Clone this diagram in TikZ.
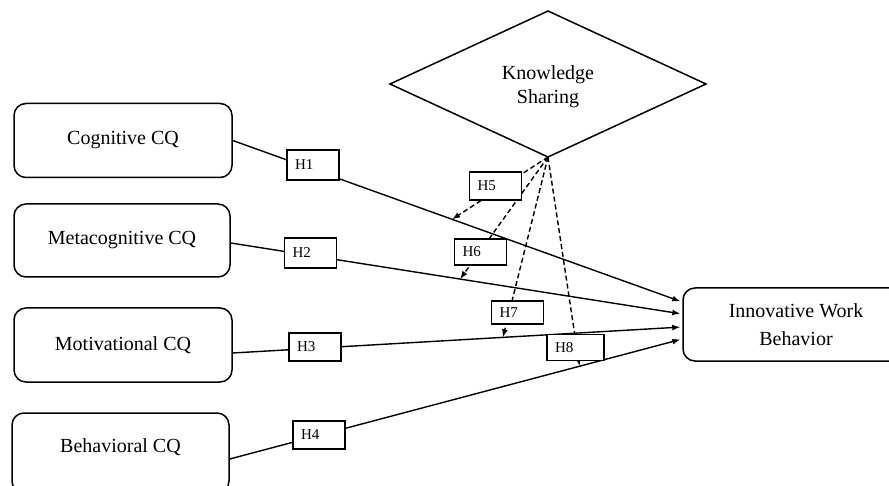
\documentclass[tikz,border=0pt]{standalone}
\usepackage{fontspec}
\setmainfont{Liberation Serif}
\usetikzlibrary{shapes.geometric,arrows.meta}

\begin{document}
\begin{tikzpicture}[x=1pt,y=-1pt,
  cq/.style={draw,line width=1.5pt,rounded corners=12pt,minimum width=218pt,
    minimum height=74pt,align=center,font=\fontsize{20}{24}\selectfont},
  hyp/.style={draw,fill=white,line width=1.5pt,text width=36pt,inner xsep=8pt,
    inner ysep=0pt,minimum height=28pt,align=left,font=\fontsize{15}{18}\selectfont},
  link/.style={line width=1.4pt,-{Latex[length=8pt,width=6pt]},shorten >=2pt},
  moder/.style={line width=1.4pt,dash pattern=on 5pt off 3pt,-{Latex[length=8pt,width=6pt]}}]
  \useasboundingbox (0,0) rectangle (889,486);

  \node[cq] (cog) at (123,140.5) {Cognitive CQ};
  \node[cq,minimum width=216pt,minimum height=73pt] (meta) at (122,240.5) {Metacognitive CQ};
  \node[cq] (mot) at (123,345) {Motivational CQ};
  \node[cq,minimum width=217pt,minimum height=80pt,
    label={[font=\fontsize{20}{24}\selectfont,yshift=6pt]center:Behavioral CQ}]
    (beh) at (120.5,453) {};
  \node[cq,minimum width=226pt,minimum height=73pt,font=\fontsize{20}{28}\selectfont]
    (iwb) at (796,324.5) {Innovative Work\\Behavior};
  \node[draw,diamond,line width=1.5pt,aspect=2.16,minimum width=316pt,minimum height=146pt,
    inner sep=0pt,outer sep=0pt,
    label={[align=center,font=\fontsize{20}{24}\selectfont,yshift=-3pt]center:Knowledge\\Sharing}]
    (ks) at (548,84) {};

  \draw[link] (cog.east) -- coordinate[pos=0.488] (t1) ([yshift=22.5pt]iwb.west);
  \draw[link] ([yshift=-2.5pt]meta.east) -- coordinate[pos=0.508] (t2) ([yshift=10.5pt]iwb.west);
  \draw[link] ([yshift=-8pt]mot.east) -- coordinate[pos=0.601] (t3) ([yshift=-2.5pt]iwb.west);
  \draw[link] ([yshift=-6pt]beh.east) -- coordinate[pos=0.773] (t4) ([yshift=-14.5pt]iwb.west);

  \foreach \t in {t1,t2,t3,t4}
    \draw[moder] (ks.south) -- (\t);

  \node[hyp,minimum height=30pt] (h1) at (313,165) {H1};
  \node[hyp,minimum height=30pt] (h2) at (310.5,253) {H2};
  \node[hyp] (h3) at (315,347) {H3};
  \node[hyp] (h4) at (319,435) {H4};
  \node[hyp] (h5) at (495.5,186) {H5};
  \node[hyp,minimum height=26pt] (h6) at (480.5,252) {H6};
  \node[hyp,minimum height=23pt] (h7) at (517.5,312.5) {H7};
  \node[hyp,minimum height=26pt,text width=41pt] (h8) at (575.5,347.5) {H8};
\end{tikzpicture}
\end{document}
